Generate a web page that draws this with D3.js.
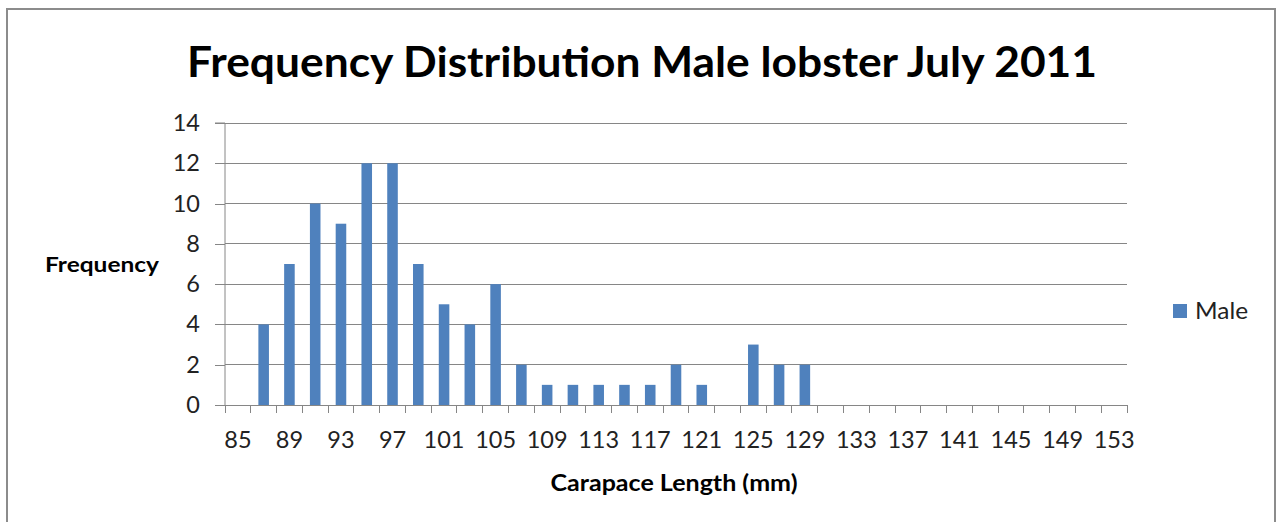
<!DOCTYPE html>
<html><head><meta charset="utf-8">
<script src="https://cdn.jsdelivr.net/npm/d3@7"></script>
<style>body{margin:0;background:#fff}svg{display:block}</style>
</head><body>
<svg id="c" width="1276" height="522"></svg>
<script>
const categories = [85,87,89,91,93,95,97,99,101,103,105,107,109,111,113,115,117,119,121,123,125,127,129,131,133,135,137,139,141,143,145,147,149,151,153];
const maleValues = [0,4,7,10,9,12,12,7,5,4,6,2,1,1,1,1,1,2,1,0,3,2,2,0,0,0,0,0,0,0,0,0,0,0,0];
const yTicks = [0,2,4,6,8,10,12,14];
const xLabels = [85,89,93,97,101,105,109,113,117,121,125,129,133,137,141,145,149,153];

const svg = d3.select("#c");
const font = "Lato, 'Open Sans', sans-serif";
const L=225, R=1127, T=123, B=405;
const gridCol = "#868686";

svg.append("rect").attr("x",7).attr("y",9).attr("width",1268).attr("height",530)
  .attr("fill","#fff").attr("stroke","#8c8c8c").attr("stroke-width",2);

const x = d3.scaleBand().domain(categories).range([L,R]).paddingInner(0.59).paddingOuter(0.295);
const y = d3.scaleLinear().domain([0,14]).range([B,T]);

// gridlines
svg.append("g").selectAll("line").data(yTicks.filter(d=>d>0)).join("line")
  .attr("x1",L).attr("x2",R).attr("y1",d=>y(d)).attr("y2",d=>y(d))
  .attr("stroke",gridCol).attr("stroke-width",1).attr("shape-rendering","crispEdges");

// y axis
const yAxis = d3.axisLeft(y).tickValues(yTicks).tickSize(10).tickPadding(15);
const gy = svg.append("g").attr("transform",`translate(${L},0)`).call(yAxis);
gy.select(".domain").attr("stroke",gridCol).attr("d",`M-10,${T}H0V${B}`);
gy.selectAll(".tick line").attr("stroke",gridCol).attr("shape-rendering","crispEdges");
gy.selectAll("text").attr("font-family",font).attr("font-size",23.5).attr("fill","#222");

// bars
svg.append("g").selectAll("rect").data(categories).join("rect")
  .attr("x",d=>x(d)).attr("width",x.bandwidth())
  .attr("y",(d,i)=>y(maleValues[i])).attr("height",(d,i)=>y(0)-y(maleValues[i]))
  .attr("fill","#4f81bd");

// x axis
const step = x.step();
const gap = (step - x.bandwidth())/2;
const bounds = categories.map(c=>x(c)-gap).concat([R]);
const gx = svg.append("g");
gx.append("line").attr("x1",L).attr("x2",R).attr("y1",B).attr("y2",B)
  .attr("stroke",gridCol).attr("shape-rendering","crispEdges");
gx.selectAll("line.t").data(bounds).join("line").attr("class","t")
  .attr("x1",d=>d).attr("x2",d=>d).attr("y1",B).attr("y2",B+8)
  .attr("stroke",gridCol).attr("shape-rendering","crispEdges");
gx.selectAll("text").data(xLabels).join("text")
  .attr("x",d=>x(d)+x.bandwidth()/2).attr("y",B+43)
  .attr("text-anchor","middle").attr("font-family",font).attr("font-size",23.5).attr("fill","#222")
  .text(d=>d);

// title
svg.append("text").attr("x",642).attr("y",77).attr("text-anchor","middle")
  .attr("font-family",font).attr("font-weight","bold").attr("font-size",42)
  .attr("textLength",910).attr("lengthAdjust","spacingAndGlyphs")
  .text("Frequency Distribution Male lobster July 2011");

// axis titles
svg.append("text").attr("x",102).attr("y",272).attr("text-anchor","middle")
  .attr("font-family",font).attr("font-weight","bold").attr("font-size",20)
  .attr("textLength",114).attr("lengthAdjust","spacingAndGlyphs")
  .text("Frequency");
svg.append("text").attr("x",674).attr("y",491).attr("text-anchor","middle")
  .attr("font-family",font).attr("font-weight","bold").attr("font-size",22)
  .attr("textLength",247).attr("lengthAdjust","spacingAndGlyphs")
  .text("Carapace Length (mm)");

// legend
svg.append("rect").attr("x",1173).attr("y",304).attr("width",14).attr("height",14).attr("fill","#4f81bd");
svg.append("text").attr("x",1195).attr("y",319).attr("font-family",font).attr("font-size",23)
  .attr("textLength",53).attr("lengthAdjust","spacingAndGlyphs").attr("fill","#222").text("Male");
</script>
</body></html>
